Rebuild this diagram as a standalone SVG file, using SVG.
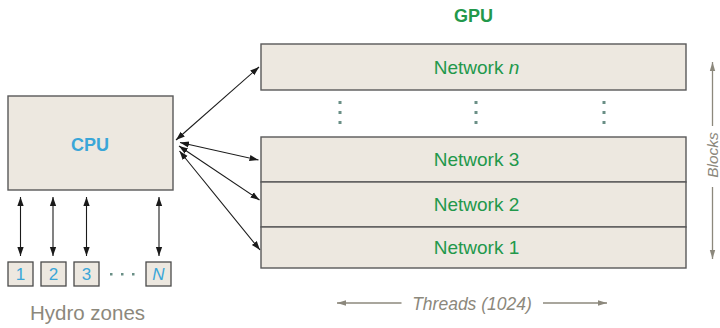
<svg xmlns="http://www.w3.org/2000/svg" width="720" height="328" viewBox="0 0 720 328">
<style>
.box{fill:#ede8e0;stroke:#595959;stroke-width:1.4}
.zone{fill:#ede8e0;stroke:#4a4a4a;stroke-width:1.3}
.net{font-family:"Liberation Sans",Arial,sans-serif;font-size:19px;fill:#22984b;text-anchor:middle}
.num{font-family:"Liberation Sans",Arial,sans-serif;font-size:17px;fill:#3aa6d8;text-anchor:middle}
.gray{font-family:"Liberation Sans",Arial,sans-serif;fill:#8c887c;text-anchor:middle}
.con{stroke:#1a1a1a;stroke-width:1.1;fill:none;marker-start:url(#ah);marker-end:url(#ah)}
.gcon{stroke:#8c887c;stroke-width:1.3;fill:none;marker-end:url(#gh)}
.dot{fill:#6a8f86}
</style>
<defs>
<marker id="ah" viewBox="0 0 10 10" refX="10" refY="5" markerWidth="9" markerHeight="9" markerUnits="userSpaceOnUse" orient="auto-start-reverse">
<path d="M0,1.5 L10,5 L0,8.5 Z" fill="#1a1a1a"/>
</marker>
<marker id="gh" viewBox="0 0 10 10" refX="10" refY="5" markerWidth="9" markerHeight="9" markerUnits="userSpaceOnUse" orient="auto">
<path d="M0,2 L10,5 L0,8 Z" fill="#8c887c"/>
</marker>
</defs>

<g id="cpu">
<rect class="box" x="8" y="96" width="165" height="94"/>
<text x="90" y="151" font-family="Liberation Sans,Arial,sans-serif" font-size="18" font-weight="bold" fill="#3aa6d8" text-anchor="middle">CPU</text>
</g>

<g id="zone1"><rect class="zone" x="8" y="262" width="25" height="24"/><text class="num" x="20.5" y="280">1</text></g>
<g id="zone2"><rect class="zone" x="41" y="262" width="25" height="24"/><text class="num" x="53.5" y="280">2</text></g>
<g id="zone3"><rect class="zone" x="74" y="262" width="25" height="24"/><text class="num" x="86.5" y="280">3</text></g>
<g id="zoneN"><rect class="zone" x="146" y="262" width="25" height="24"/><text class="num" x="158.5" y="280" font-style="italic">N</text></g>
<g id="zone-dots">
<rect class="dot" x="110" y="273" width="2.5" height="2.5"/>
<rect class="dot" x="121" y="273" width="2.5" height="2.5"/>
<rect class="dot" x="132" y="273" width="2.5" height="2.5"/>
</g>
<text id="hydro" class="gray" x="87.5" y="320" font-size="20.5">Hydro zones</text>

<text id="gpu" x="473.5" y="22" font-family="Liberation Sans,Arial,sans-serif" font-size="18" font-weight="bold" fill="#22984b" text-anchor="middle">GPU</text>

<g id="network-n">
<rect class="box" x="261" y="44" width="425" height="46"/>
<text class="net" x="476.5" y="74">Network <tspan font-style="italic">n</tspan></text>
</g>
<g id="gpu-dots">
<rect class="dot" x="338.5" y="101" width="3" height="3"/>
<rect class="dot" x="338.5" y="111" width="3" height="3"/>
<rect class="dot" x="338.5" y="121" width="3" height="3"/>
<rect class="dot" x="474.5" y="101" width="3" height="3"/>
<rect class="dot" x="474.5" y="111" width="3" height="3"/>
<rect class="dot" x="474.5" y="121" width="3" height="3"/>
<rect class="dot" x="602.5" y="101" width="3" height="3"/>
<rect class="dot" x="602.5" y="111" width="3" height="3"/>
<rect class="dot" x="602.5" y="121" width="3" height="3"/>
</g>
<g id="network-3">
<rect class="box" x="261" y="137" width="425" height="45"/>
<text class="net" x="476.5" y="165.5">Network 3</text>
</g>
<g id="network-2">
<rect class="box" x="261" y="182" width="425" height="45"/>
<text class="net" x="476.5" y="210.5">Network 2</text>
</g>
<g id="network-1">
<rect class="box" x="261" y="227" width="425" height="41"/>
<text class="net" x="476.5" y="254">Network 1</text>
</g>

<g id="connectors">
<line class="con" x1="176" y1="140" x2="259" y2="67"/>
<line class="con" x1="180" y1="142.5" x2="258.5" y2="160"/>
<line class="con" x1="179" y1="146" x2="259.5" y2="200"/>
<line class="con" x1="179.5" y1="151" x2="260" y2="250"/>
<line class="con" x1="20.5" y1="197" x2="20.5" y2="256"/>
<line class="con" x1="53" y1="197" x2="53" y2="256"/>
<line class="con" x1="86.5" y1="197" x2="86.5" y2="256"/>
<line class="con" x1="159" y1="197" x2="159" y2="256"/>
<line class="gcon" x1="401.5" y1="303" x2="337" y2="303"/>
<line class="gcon" x1="543" y1="303" x2="607" y2="303"/>
<line class="gcon" x1="712.5" y1="126" x2="712.5" y2="62"/>
<line class="gcon" x1="712.5" y1="187" x2="712.5" y2="259"/>
</g>

<text id="threads" class="gray" x="472" y="309.5" font-size="17.5" font-style="italic">Threads (1024)</text>
<text id="blocks" class="gray" font-size="15.5" font-style="italic" transform="translate(718,155) rotate(-90)">Blocks</text>
</svg>
